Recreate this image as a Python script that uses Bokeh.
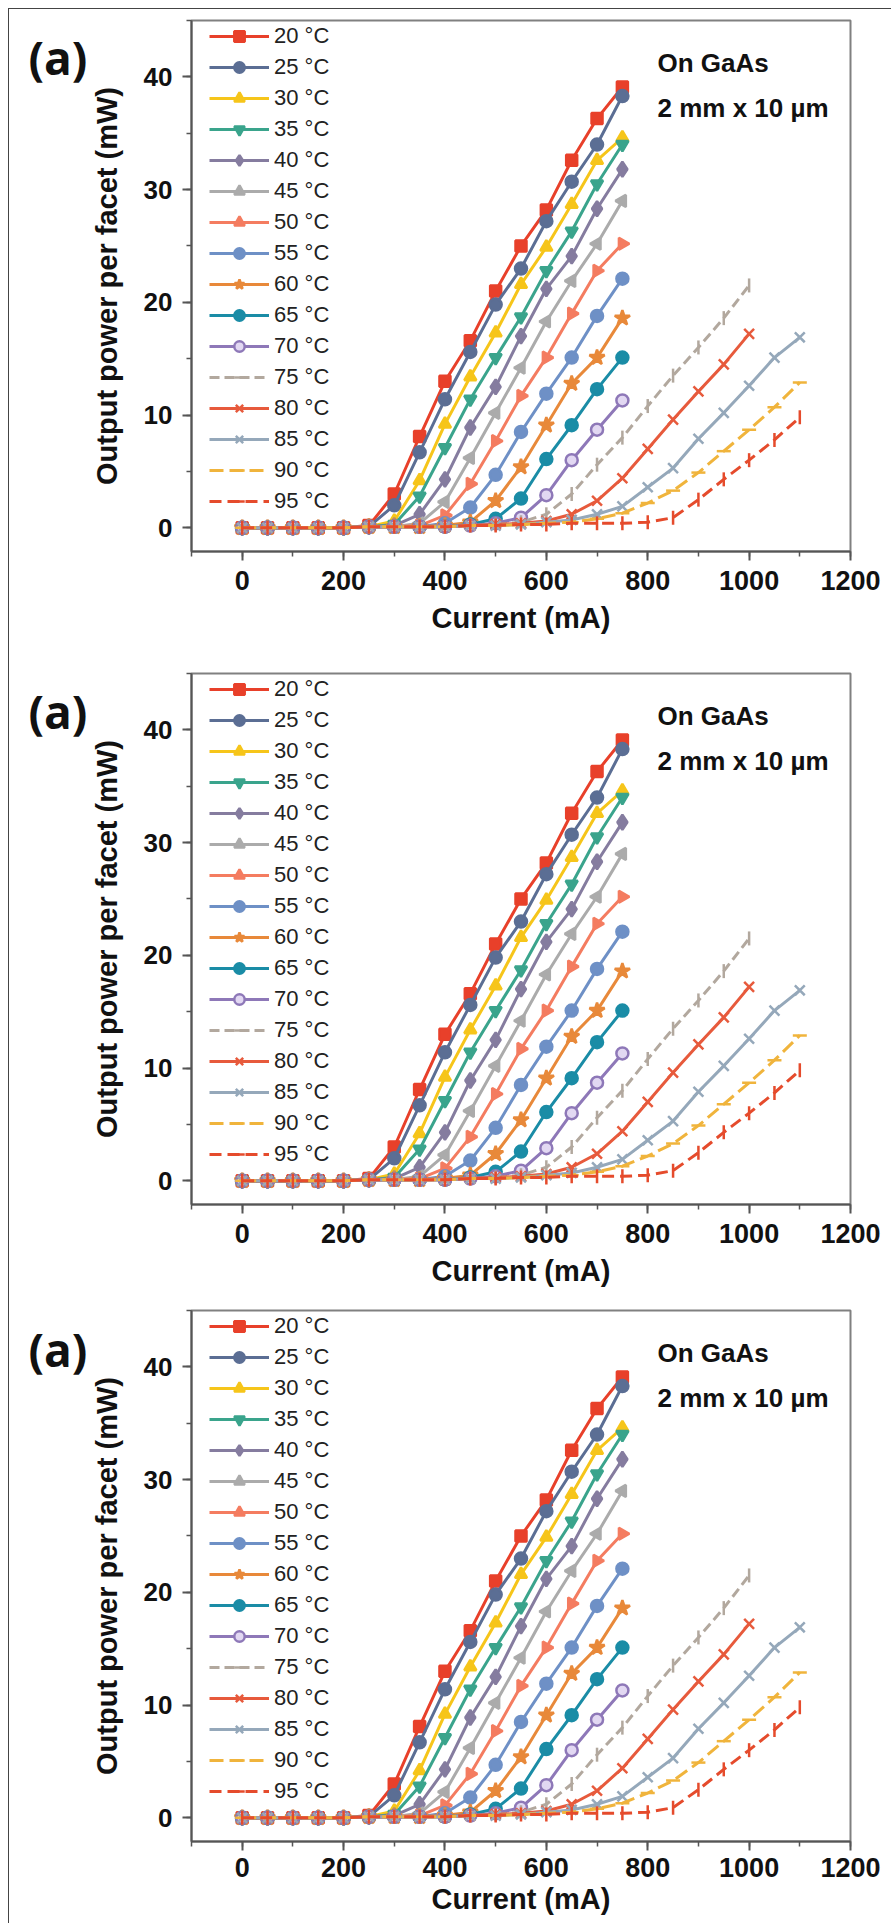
import numpy as np
from bokeh.plotting import figure
from bokeh.layouts import column, row
from bokeh.models import (Range1d, SingleIntervalTicker, Legend, LegendItem, Label)
from bokeh.embed import file_html
from bokeh.resources import INLINE

# ---------------- data ----------------
temps = ["20 °C", "25 °C", "30 °C", "35 °C", "40 °C", "45 °C", "50 °C", "55 °C",
         "60 °C", "65 °C", "70 °C", "75 °C", "80 °C", "85 °C", "90 °C", "95 °C"]

current_750 = [0, 50, 100, 150, 200, 250, 300, 350, 400, 450, 500, 550, 600, 650, 700, 750]
current_1000 = current_750 + [800, 850, 900, 950, 1000]
current_1100 = current_1000 + [1050, 1100]

p20 = [0, 0, 0, 0, 0, 0.2, 3.0, 8.1, 13.0, 16.6, 21.0, 25.0, 28.2, 32.6, 36.3, 39.1]
p25 = [0, 0, 0, 0, 0, 0.1, 2.0, 6.7, 11.4, 15.6, 19.8, 23.0, 27.2, 30.7, 34.0, 38.3]
p30 = [0, 0, 0, 0, 0, 0.1, 0.6, 4.2, 9.2, 13.4, 17.3, 21.6, 24.9, 28.7, 32.6, 34.6]
p35 = [0, 0, 0, 0, 0, 0.1, 0.3, 2.8, 7.1, 11.4, 15.1, 18.7, 22.8, 26.3, 30.5, 34.0]
p40 = [0, 0, 0, 0, 0, 0.1, 0.2, 1.2, 4.3, 8.9, 12.5, 17.0, 21.2, 24.1, 28.3, 31.8]
p45 = [0, 0, 0, 0, 0, 0.1, 0.1, 0.4, 2.3, 6.2, 10.2, 14.2, 18.3, 21.9, 25.2, 29.0]
p50 = [0, 0, 0, 0, 0, 0.1, 0.1, 0.2, 1.1, 3.9, 7.7, 11.7, 15.1, 19.0, 22.8, 25.2]
p55 = [0, 0, 0, 0, 0, 0.1, 0.1, 0.1, 0.4, 1.8, 4.7, 8.5, 11.9, 15.1, 18.8, 22.1]
p60 = [0, 0, 0, 0, 0, 0.1, 0.1, 0.1, 0.2, 0.5, 2.4, 5.4, 9.1, 12.8, 15.1, 18.6]
p65 = [0, 0, 0, 0, 0, 0.1, 0.1, 0.1, 0.1, 0.3, 0.8, 2.6, 6.1, 9.1, 12.3, 15.1]
p70 = [0, 0, 0, 0, 0, 0.1, 0.1, 0.1, 0.1, 0.2, 0.4, 0.9, 2.9, 6.0, 8.7, 11.3]
p75 = [0, 0, 0, 0, 0, 0.1, 0.1, 0.1, 0.1, 0.2, 0.3, 0.5, 1.2, 3.0, 5.6, 8.0,
       10.8, 13.5, 16.0, 18.6, 21.5]
p80 = [0, 0, 0, 0, 0, 0.1, 0.1, 0.1, 0.1, 0.2, 0.3, 0.4, 0.6, 1.2, 2.4, 4.4,
       7.0, 9.6, 12.1, 14.5, 17.2]
p85 = [0, 0, 0, 0, 0, 0.1, 0.1, 0.1, 0.1, 0.2, 0.2, 0.3, 0.5, 0.7, 1.2, 1.9,
       3.6, 5.3, 7.9, 10.2, 12.6, 15.1, 16.9]
p90 = [0, 0, 0, 0, 0, 0.1, 0.1, 0.1, 0.1, 0.2, 0.2, 0.3, 0.4, 0.5, 0.8, 1.3,
       2.2, 3.3, 4.9, 6.8, 8.7, 10.7, 12.9]
p95 = [0, 0, 0, 0, 0, 0.1, 0.1, 0.1, 0.1, 0.2, 0.2, 0.3, 0.3, 0.4, 0.4, 0.4,
       0.5, 0.9, 2.5, 4.3, 6.0, 7.8, 9.8]

xs_list = [current_750] * 11 + [current_1000] * 2 + [current_1100] * 3
ys_list = [p20, p25, p30, p35, p40, p45, p50, p55, p60, p65, p70, p75, p80, p85, p90, p95]

x_label = "Current (mA)"
y_label = "Output power per facet (mW)"
panel_tag = "(a)"
note_1 = "On GaAs"
note_2 = "2 mm x 10 \u00b5m"

# ---------------- styles ----------------
colors = ["#E8402A", "#5B6E94", "#F6C51A", "#3AA48C", "#857C9F", "#ABABAB", "#F47C60", "#6E90C6",
          "#E8893A", "#1A8CA6", "#8E78B8", "#B2A89E", "#E75A3C", "#95A8BA", "#F0B43C", "#E54B2C"]
markers = ["square", "circle", "triangle", "inverted_triangle", "diamond", "triangle", "triangle",
           "circle", "star", "circle", "circle", "dash", "x", "x", "dash", "dash"]
angles = [0, 0, 0, 0, 0, np.pi / 2, -np.pi / 2, 0, 0, 0, 0, np.pi / 2, 0, 0, 0, np.pi / 2]
sizes = [11, 12, 12, 12, 15, 12, 12, 12, 16, 12, 12, 14, 14, 14, 14, 14]
dashes = ["solid"] * 11 + ["10 5", "solid", "solid", "14 6", "12 6"]
fills = colors[:10] + ["#E2D8F2"] + colors[11:]

FONT = "Liberation Sans"
TAG_W = 78
MAIN_LEFT = 100
FRAME_W = 659
FRAME_H = 531
MAIN_RIGHT = 878 - TAG_W - MAIN_LEFT - FRAME_W


def make_tag(height):
    t = figure(width=TAG_W, height=height, min_border=0,
               x_axis_location=None, y_axis_location=None,
               x_range=Range1d(0, TAG_W), y_range=Range1d(0, height),
               output_backend="svg", toolbar_location=None,
               background_fill_color="white", border_fill_color="white")
    t.grid.visible = False
    t.outline_line_color = None
    t.add_layout(Label(x=19, y=height - 45, text=panel_tag,
                       text_font="Open Sans", text_font_style="bold",
                       text_font_size="46px", text_color="#111111",
                       text_baseline="alphabetic"))
    return t


def make_panel(top, bottom, tick_gap, label_gap):
    p = figure(frame_width=FRAME_W, frame_height=FRAME_H,
               min_border_left=MAIN_LEFT, min_border_right=MAIN_RIGHT,
               min_border_top=top, min_border_bottom=bottom,
               x_range=Range1d(-100, 1200), y_range=Range1d(-2.1, 45),
               output_backend="svg", toolbar_location=None,
               background_fill_color="white", border_fill_color="white")
    p.grid.visible = False
    p.outline_line_color = "#808080"
    p.outline_line_width = 2

    p.xaxis.ticker = SingleIntervalTicker(interval=200, num_minor_ticks=2)
    p.yaxis.ticker = SingleIntervalTicker(interval=10, num_minor_ticks=2)
    for ax in (p.xaxis[0], p.yaxis[0]):
        ax.axis_line_color = "#555555"
        ax.axis_line_width = 2
        ax.major_tick_line_color = "#555555"
        ax.major_tick_line_width = 2
        ax.minor_tick_line_color = "#555555"
        ax.minor_tick_line_width = 1.5
        ax.major_tick_in = 0
        ax.major_tick_out = 9
        ax.minor_tick_in = 0
        ax.minor_tick_out = 5
        ax.major_label_text_font = FONT
        ax.major_label_text_font_style = "bold"
        ax.major_label_text_color = "#111111"
        ax.axis_label_text_font = FONT
        ax.axis_label_text_font_style = "bold"
        ax.axis_label_text_color = "#111111"
        ax.axis_label_text_font_size = "29px"
    p.xaxis.axis_label = x_label
    p.yaxis.axis_label = y_label
    p.xaxis.major_label_text_font_size = "27px"
    p.yaxis.major_label_text_font_size = "26px"
    p.xaxis.major_label_standoff = tick_gap
    p.xaxis.axis_label_standoff = label_gap
    p.yaxis.major_label_standoff = 10
    p.yaxis.axis_label_standoff = 18

    items = []
    for i, name in enumerate(temps):
        lr = p.line(xs_list[i], ys_list[i], line_color=colors[i], line_width=3,
                    line_dash=dashes[i])
        sr = p.scatter(xs_list[i], ys_list[i], marker=markers[i], size=sizes[i],
                       angle=angles[i], fill_color=fills[i], line_color=colors[i],
                       line_width=2.5)
        items.append(LegendItem(label=name, renderers=[lr, sr]))

    leg = Legend(items=items, location=(18, 37), padding=0, margin=0,
                 glyph_width=60, glyph_height=26, label_height=26, spacing=5,
                 label_standoff=5, label_text_font=FONT, label_text_font_size="22px",
                 label_text_color="#222222", border_line_alpha=0,
                 background_fill_alpha=0)
    p.add_layout(leg, "center")

    p.add_layout(Label(x=466, y=489, x_units="screen", y_units="screen", text=note_1,
                       text_font=FONT, text_font_style="bold", text_baseline="alphabetic",
                       text_font_size="26px", text_color="#111111"))
    p.add_layout(Label(x=466, y=444, x_units="screen", y_units="screen", text=note_2,
                       text_font=FONT, text_font_style="bold", text_baseline="alphabetic",
                       text_font_size="26px", text_color="#111111"))
    return p


specs = [(11, 111, 10, 9), (11, 97, 10, 9), (9, 82, 7, 3)]
rows = []
for top, bottom, tg, lg in specs:
    h = top + FRAME_H + bottom
    rows.append(row(make_tag(h), make_panel(top, bottom, tg, lg), spacing=0))

layout = column(*rows, spacing=0,
                styles={"border": "1.5px solid #444444", "border-bottom": "none",
                        "margin": "8px 0px 0px 8px"})

open("out.html", "w").write(file_html(layout, INLINE))
